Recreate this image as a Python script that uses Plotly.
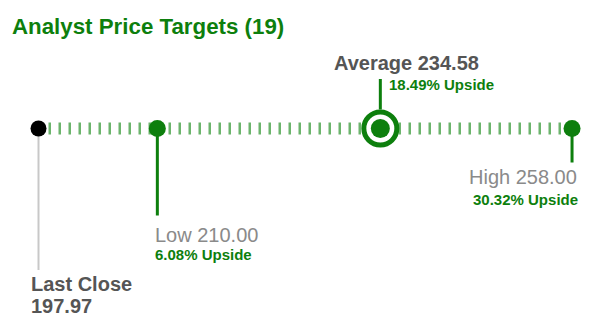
import math
import plotly.graph_objects as go

# ---- data ----
labels = ["Last Close", "Low", "Average", "High"]
prices = [197.97, 210.00, 234.58, 258.00]
upsides = [None, 6.08, 18.49, 30.32]
n_analysts = 19

GREEN = "#0d7f0d"
TICK_GREEN = "#6cb46c"
DARK = "#555555"
GREY = "#8a8a8a"
FONT = "Liberation Sans, Arial, sans-serif"

W, H = 589, 331
LINE_Y_PX = 128.5
px_per_decade = 4638.7
x0_px = 38.5
r0 = math.log10(prices[0]) - x0_px / px_per_decade
r1 = r0 + W / px_per_decade

last, low, avg, high = prices

fig = go.Figure()

# dashed "tick" rail
fig.add_trace(go.Scatter(
    x=[last, high], y=[0, 0], mode="lines",
    line=dict(color=TICK_GREEN, width=12, dash="2.5px,7.5px"),
    hoverinfo="skip", showlegend=False))

# stems (below traces)
def stem(x, y0, y1, color, width):
    fig.add_shape(type="line", xref="x", yref="y", x0=x, x1=x, y0=y0, y1=y1,
                  line=dict(color=color, width=width), layer="below")

stem(last, 0, -141.5, "#c8c8c8", 2)
stem(low, 0, -87, GREEN, 3)
stem(high, 0, -34, GREEN, 3)
stem(avg, 19, 49.5, GREEN, 3)

# markers
fig.add_trace(go.Scatter(x=[last], y=[0], mode="markers",
                         marker=dict(color="black", size=16), showlegend=False))
fig.add_trace(go.Scatter(x=[low, high], y=[0, 0], mode="markers",
                         marker=dict(color=GREEN, size=17), showlegend=False))
fig.add_trace(go.Scatter(x=[avg], y=[0], mode="markers",
                         marker=dict(color="white", size=33,
                                     line=dict(color=GREEN, width=5)),
                         showlegend=False))
fig.add_trace(go.Scatter(x=[avg], y=[0], mode="markers",
                         marker=dict(color=GREEN, size=19), showlegend=False))

def ann(text, x, y, xanchor, xshift, size, color, xref="x"):
    xv = math.log10(x) if xref == "x" else x  # log axis: annotations use log10
    fig.add_annotation(text=text, x=xv, y=y, xref=xref, yref="y",
                       xanchor=xanchor, yanchor="middle", xshift=xshift,
                       showarrow=False,
                       font=dict(family=FONT, size=size, color=color))

# title
ann(f"<b>Analyst Price Targets ({n_analysts})</b>", 0, LINE_Y_PX - 26,
    "left", 10, 22.3, GREEN, xref="paper")

# Average
ann(f"<b>{labels[2]} {avg:.2f}</b>", avg, 66, "left", -48, 20, DARK)
ann(f"<b>{upsides[2]:.2f}% Upside</b>", avg, 44, "left", 7, 15, GREEN)
# High
ann(f"{labels[3]} {high:.2f}", high, -48.5, "right", 7, 20, GREY)
ann(f"<b>{upsides[3]:.2f}% Upside</b>", high, -70.5, "right", 8, 15, GREEN)
# Low
ann(f"{labels[1]} {low:.2f}", low, -106, "left", -4, 20, GREY)
ann(f"<b>{upsides[1]:.2f}% Upside</b>", low, -126, "left", -4, 15, GREEN)
# Last close
ann(f"<b>{labels[0]}</b>", last, -155.5, "left", -10, 20, DARK)
ann(f"<b>{last:.2f}</b>", last, -177, "left", -10, 20, DARK)

fig.update_layout(
    width=W, height=H, margin=dict(l=0, r=0, t=0, b=0),
    paper_bgcolor="white", plot_bgcolor="white", showlegend=False,
    xaxis=dict(type="log", range=[r0, r1], visible=False, fixedrange=True),
    yaxis=dict(range=[LINE_Y_PX - H, LINE_Y_PX], visible=False, fixedrange=True),
)

fig.write_html("out.html")
